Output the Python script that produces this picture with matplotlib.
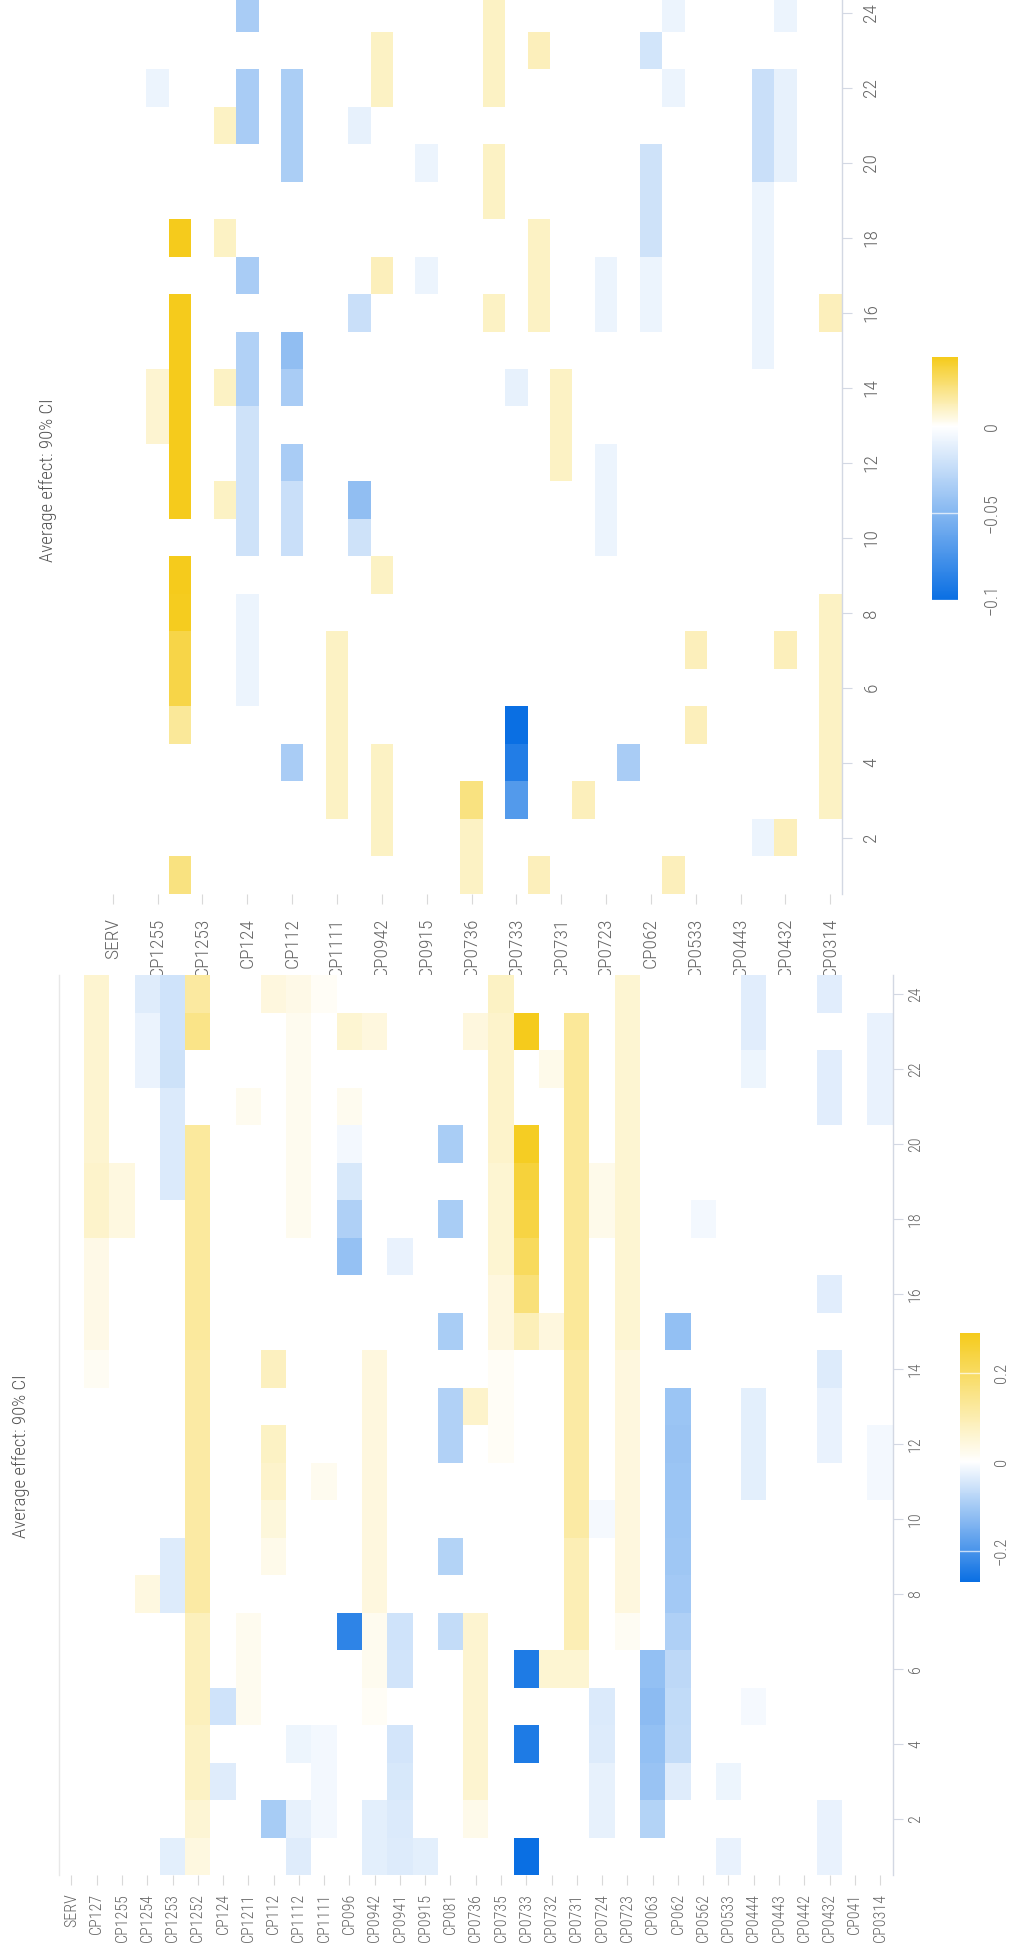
import numpy as np
import matplotlib
matplotlib.use("Agg")
import matplotlib.pyplot as plt
from matplotlib import font_manager as fm
from matplotlib.colors import LinearSegmentedColormap, Normalize

NA = np.nan

categories = ["SERV", "CP127", "CP1255", "CP1254", "CP1253", "CP1252", "CP124",
              "CP1211", "CP112", "CP1112", "CP1111", "CP096", "CP0942", "CP0941",
              "CP0915", "CP081", "CP0736", "CP0735", "CP0733", "CP0732", "CP0731",
              "CP0724", "CP0723", "CP063", "CP062", "CP0562", "CP0533", "CP0444",
              "CP0443", "CP0442", "CP0432", "CP041", "CP0314"]
hours = list(range(1, 25))
hour_ticks = [2, 4, 6, 8, 10, 12, 14, 16, 18, 20, 22, 24]

# Upper panel: average effect per category (rows) and hour 1..24 (columns)
upper_effect = [
    [NA, NA, NA, NA, NA, NA, NA, NA, NA, NA, NA, NA, NA, NA, NA, NA, NA, NA, NA, NA, NA, NA, NA, NA],
    [NA, NA, NA, NA, NA, NA, NA, NA, NA, NA, NA, NA, NA, NA, NA, NA, NA, NA, NA, NA, NA, NA, NA, NA],
    [NA, NA, NA, NA, NA, NA, NA, NA, NA, NA, NA, NA, .008, .008, NA, NA, NA, NA, NA, NA, NA, -.008, NA, NA],
    [.022, NA, NA, NA, .018, .032, .032, .039, .04, NA, .04, .04, .04, .04, .04, .04, NA, .04, NA, NA, NA, NA, NA, NA],
    [NA, NA, NA, NA, NA, NA, NA, NA, NA, NA, NA, NA, NA, NA, NA, NA, NA, NA, NA, NA, NA, NA, NA, NA],
    [NA, NA, NA, NA, NA, NA, NA, NA, NA, NA, .01, NA, NA, .01, NA, NA, NA, .01, NA, NA, .01, NA, NA, NA],
    [NA, NA, NA, NA, NA, -.008, -.008, -.008, NA, -.02, -.02, -.02, -.02, -.032, -.032, NA, -.035, NA, NA, NA, -.035, -.035, NA, -.035],
    [NA, NA, NA, NA, NA, NA, NA, NA, NA, NA, NA, NA, NA, NA, NA, NA, NA, NA, NA, NA, NA, NA, NA, NA],
    [NA, NA, NA, -.035, NA, NA, NA, NA, NA, -.022, -.022, -.035, NA, -.035, -.045, NA, NA, NA, NA, -.034, -.034, -.034, NA, NA],
    [NA, NA, NA, NA, NA, NA, NA, NA, NA, NA, NA, NA, NA, NA, NA, NA, NA, NA, NA, NA, NA, NA, NA, NA],
    [NA, NA, .01, .01, .01, .01, .01, NA, NA, NA, NA, NA, NA, NA, NA, NA, NA, NA, NA, NA, NA, NA, NA, NA],
    [NA, NA, NA, NA, NA, NA, NA, NA, NA, -.02, -.045, NA, NA, NA, NA, -.022, NA, NA, NA, NA, -.01, NA, NA, NA],
    [NA, .01, .01, .01, NA, NA, NA, NA, .01, NA, NA, NA, NA, NA, NA, NA, .012, NA, NA, NA, NA, .01, .01, NA],
    [NA, NA, NA, NA, NA, NA, NA, NA, NA, NA, NA, NA, NA, NA, NA, NA, NA, NA, NA, NA, NA, NA, NA, NA],
    [NA, NA, NA, NA, NA, NA, NA, NA, NA, NA, NA, NA, NA, NA, NA, NA, -.008, NA, NA, -.008, NA, NA, NA, NA],
    [NA, NA, NA, NA, NA, NA, NA, NA, NA, NA, NA, NA, NA, NA, NA, NA, NA, NA, NA, NA, NA, NA, NA, NA],
    [.01, .01, .022, NA, NA, NA, NA, NA, NA, NA, NA, NA, NA, NA, NA, NA, NA, NA, NA, NA, NA, NA, NA, NA],
    [NA, NA, NA, NA, NA, NA, NA, NA, NA, NA, NA, NA, NA, NA, NA, .01, NA, NA, .01, .01, NA, .01, .01, .01],
    [NA, NA, -.07, -.09, -.1, NA, NA, NA, NA, NA, NA, NA, NA, -.01, NA, NA, NA, NA, NA, NA, NA, NA, NA, NA],
    [.012, NA, NA, NA, NA, NA, NA, NA, NA, NA, NA, NA, NA, NA, NA, .01, .01, .01, NA, NA, NA, NA, .012, NA],
    [NA, NA, NA, NA, NA, NA, NA, NA, NA, NA, NA, .01, .01, .01, NA, NA, NA, NA, NA, NA, NA, NA, NA, NA],
    [NA, NA, .012, NA, NA, NA, NA, NA, NA, NA, NA, NA, NA, NA, NA, NA, NA, NA, NA, NA, NA, NA, NA, NA],
    [NA, NA, NA, NA, NA, NA, NA, NA, NA, -.008, -.008, -.008, NA, NA, NA, -.008, -.008, NA, NA, NA, NA, NA, NA, NA],
    [NA, NA, NA, -.035, NA, NA, NA, NA, NA, NA, NA, NA, NA, NA, NA, NA, NA, NA, NA, NA, NA, NA, NA, NA],
    [NA, NA, NA, NA, NA, NA, NA, NA, NA, NA, NA, NA, NA, NA, NA, -.008, -.008, -.02, -.02, -.02, NA, NA, -.018, NA],
    [.012, NA, NA, NA, NA, NA, NA, NA, NA, NA, NA, NA, NA, NA, NA, NA, NA, NA, NA, NA, NA, -.008, NA, -.008],
    [NA, NA, NA, NA, .012, NA, .012, NA, NA, NA, NA, NA, NA, NA, NA, NA, NA, NA, NA, NA, NA, NA, NA, NA],
    [NA, NA, NA, NA, NA, NA, NA, NA, NA, NA, NA, NA, NA, NA, NA, NA, NA, NA, NA, NA, NA, NA, NA, NA],
    [NA, NA, NA, NA, NA, NA, NA, NA, NA, NA, NA, NA, NA, NA, NA, NA, NA, NA, NA, NA, NA, NA, NA, NA],
    [NA, -.008, NA, NA, NA, NA, NA, NA, NA, NA, NA, NA, NA, NA, -.008, -.008, -.008, -.008, -.008, -.022, -.022, -.022, NA, NA],
    [NA, .012, NA, NA, NA, NA, .012, NA, NA, NA, NA, NA, NA, NA, NA, NA, NA, NA, NA, -.01, -.01, -.01, NA, -.008],
    [NA, NA, NA, NA, NA, NA, NA, NA, NA, NA, NA, NA, NA, NA, NA, NA, NA, NA, NA, NA, NA, NA, NA, NA],
    [NA, NA, .01, .01, .01, .01, .01, .01, NA, NA, NA, NA, NA, NA, NA, .012, NA, NA, NA, NA, NA, NA, NA, NA],
]

# Lower panel: average effect per category (rows) and hour 1..24 (columns)
lower_effect = [
    [NA, NA, NA, NA, NA, NA, NA, NA, NA, NA, NA, NA, NA, NA, NA, NA, NA, NA, NA, NA, NA, NA, NA, NA],
    [NA, NA, NA, NA, NA, NA, NA, NA, NA, NA, NA, NA, NA, .015, .03, .03, .03, .065, .065, .06, .06, .06, .06, .06],
    [NA, NA, NA, NA, NA, NA, NA, NA, NA, NA, NA, NA, NA, NA, NA, NA, NA, .04, .04, NA, NA, NA, NA, NA],
    [NA, NA, NA, NA, NA, NA, NA, .04, NA, NA, NA, NA, NA, NA, NA, NA, NA, NA, NA, NA, NA, -.022, -.022, -.035],
    [-.031, NA, NA, NA, NA, NA, NA, -.037, -.037, NA, NA, NA, NA, NA, NA, NA, NA, NA, -.04, -.04, -.04, -.055, -.052, -.052],
    [.04, .055, .075, .075, .085, .085, .085, .115, .115, .115, .115, .115, .115, .115, .125, .125, .125, .125, .125, .125, NA, NA, .15, .12],
    [NA, NA, -.035, NA, -.053, NA, NA, NA, NA, NA, NA, NA, NA, NA, NA, NA, NA, NA, NA, NA, NA, NA, NA, NA],
    [NA, NA, NA, NA, .02, .02, .02, NA, NA, NA, NA, NA, NA, NA, NA, NA, NA, NA, NA, NA, .02, NA, NA, NA],
    [NA, -.096, NA, NA, NA, NA, NA, NA, .026, .045, .066, .074, NA, .08, NA, NA, NA, NA, NA, NA, NA, NA, NA, .042],
    [-.035, -.027, NA, -.019, NA, NA, NA, NA, NA, NA, NA, NA, NA, NA, NA, NA, NA, .02, .02, .02, .02, .02, .02, .03],
    [NA, -.014, -.014, -.014, NA, NA, NA, NA, NA, NA, .02, NA, NA, NA, NA, NA, NA, NA, NA, NA, NA, NA, NA, .012],
    [NA, NA, NA, NA, NA, NA, -.229, NA, NA, NA, NA, NA, NA, NA, NA, NA, -.116, -.087, -.043, -.013, .02, NA, .056, NA],
    [-.031, -.031, NA, NA, .012, .02, .02, .042, .042, .042, .042, .042, .042, .042, NA, NA, NA, NA, NA, NA, NA, NA, .042, NA],
    [-.037, -.04, -.043, -.047, NA, -.05, -.053, NA, NA, NA, NA, NA, NA, NA, NA, NA, -.023, NA, NA, NA, NA, NA, NA, NA],
    [-.031, NA, NA, NA, NA, NA, NA, NA, NA, NA, NA, NA, NA, NA, NA, NA, NA, NA, NA, NA, NA, NA, NA, NA],
    [NA, NA, NA, NA, NA, NA, -.065, NA, -.082, NA, NA, -.086, -.086, NA, -.095, NA, NA, -.095, NA, -.095, NA, NA, NA, NA],
    [NA, .026, .06, .06, .06, .06, .06, NA, NA, NA, NA, NA, .066, NA, NA, NA, NA, NA, NA, NA, NA, NA, .042, NA],
    [NA, NA, NA, NA, NA, NA, NA, NA, NA, NA, NA, .012, .012, .012, .042, .042, .056, .056, .056, .066, .066, .066, .066, .074],
    [-.27, NA, NA, -.248, NA, -.248, NA, NA, NA, NA, NA, NA, NA, NA, .09, .17, .206, .238, .25, .28, NA, NA, .29, NA],
    [NA, NA, NA, NA, NA, .056, NA, NA, NA, NA, NA, NA, NA, NA, .042, NA, NA, NA, NA, NA, NA, .026, NA, NA],
    [NA, NA, NA, NA, NA, .056, .095, .095, .095, .115, .115, .115, .115, .115, .13, .13, .13, .13, .13, .13, .13, .13, .13, NA],
    [NA, -.027, -.027, -.037, -.04, NA, NA, NA, NA, -.011, NA, NA, NA, NA, NA, NA, NA, .026, .026, NA, NA, NA, NA, NA],
    [NA, NA, NA, NA, NA, NA, .015, .042, .042, .042, .042, .042, .042, .042, .056, .056, .056, .056, .056, .056, .056, .056, .056, .056],
    [NA, -.082, -.111, -.119, -.126, -.119, NA, NA, NA, NA, NA, NA, NA, NA, NA, NA, NA, NA, NA, NA, NA, NA, NA, NA],
    [NA, NA, -.035, -.065, -.068, -.072, -.088, -.1, -.105, -.108, -.11, -.112, -.11, NA, -.119, NA, NA, NA, NA, NA, NA, NA, NA, NA],
    [NA, NA, NA, NA, NA, NA, NA, NA, NA, NA, NA, NA, NA, NA, NA, NA, NA, -.013, NA, NA, NA, NA, NA, NA],
    [-.023, NA, -.019, NA, NA, NA, NA, NA, NA, NA, NA, NA, NA, NA, NA, NA, NA, NA, NA, NA, NA, NA, NA, NA],
    [NA, NA, NA, NA, -.011, NA, NA, NA, NA, NA, -.031, -.031, -.031, NA, NA, NA, NA, NA, NA, NA, NA, -.019, -.033, -.033],
    [NA, NA, NA, NA, NA, NA, NA, NA, NA, NA, NA, NA, NA, NA, NA, NA, NA, NA, NA, NA, NA, NA, NA, NA],
    [NA, NA, NA, NA, NA, NA, NA, NA, NA, NA, NA, NA, NA, NA, NA, NA, NA, NA, NA, NA, NA, NA, NA, NA],
    [-.023, -.023, NA, NA, NA, NA, NA, NA, NA, NA, NA, -.023, -.023, -.037, NA, -.033, NA, NA, NA, NA, -.033, -.033, NA, -.033],
    [NA, NA, NA, NA, NA, NA, NA, NA, NA, NA, NA, NA, NA, NA, NA, NA, NA, NA, NA, NA, NA, NA, NA, NA],
    [NA, NA, NA, NA, NA, NA, NA, NA, NA, NA, -.013, -.013, NA, NA, NA, NA, NA, NA, NA, NA, -.023, -.023, -.023, NA],
]

upper_cbar_ticks = [-0.1, -0.05, 0]
lower_cbar_ticks = [-0.2, 0, 0.2]
title_text = "Average effect: 90% CI"

BLUE, WHITE, YELLOW = "#0a6fe3", "#ffffff", "#f5cb1c"
TEXT = "#666666"

W, H = 1010, 1955
fig = plt.figure(figsize=(W / 100, H / 100), dpi=100, facecolor="white")


def pick_font(*names):
    avail = {f.name for f in fm.fontManager.ttflist}
    for n in names:
        if n in avail:
            return n
    return "DejaVu Sans"


NARROW = pick_font("Roboto Condensed", "Liberation Sans Narrow", "Open Sans Condensed",
                   "DejaVu Sans Condensed", "DejaVu Sans")


def px_axes(x0, y0, x1, y1):
    return fig.add_axes([x0 / W, 1 - y1 / H, (x1 - x0) / W, (y1 - y0) / H])


def minus(v):
    return f"{v:g}".replace("-", "\u2212")


def draw_panel(ax_box, cax_box, values, label_every, font_size, cbar_ticks,
               tick_pad, hour_pad, cbar_pad, cbar_font, left_line):
    z = np.array(values, dtype=float).T          # hours x categories
    vmin, vmax = np.nanmin(z), np.nanmax(z)
    mid = -vmin / (vmax - vmin)
    cmap = LinearSegmentedColormap.from_list("effect", [(0, BLUE), (mid, WHITE), (1, YELLOW)])
    norm = Normalize(vmin=vmin, vmax=vmax)

    ax = px_axes(*ax_box)
    xe = np.arange(len(categories) + 1) - 0.5
    ye = np.arange(len(hours) + 1) + 0.5
    mesh = ax.pcolormesh(xe, ye, np.ma.masked_invalid(z), cmap=cmap, norm=norm,
                         shading="flat", edgecolors="none", antialiased=False)
    ax.set_xlim(-0.5, len(categories) - 0.5)
    ax.set_ylim(0.5, 24.5)

    for side in ("top", "bottom"):
        ax.spines[side].set_visible(False)
    ax.spines["left"].set_visible(left_line)
    ax.spines["left"].set_color("#e8e8e8")
    ax.spines["right"].set_color("#d3d8e3")
    for side in ("left", "right"):
        ax.spines[side].set_linewidth(1.0)

    idx = list(range(0, len(categories), label_every))
    ax.set_xticks(idx)
    ax.set_xticklabels([categories[i] for i in idx], rotation=90, fontsize=font_size,
                       color=TEXT, family=NARROW, fontweight="light")
    for t in ax.get_xticklabels():
        t.set_va("top")
        t.set_ha("center")
    ax.tick_params(axis="x", length=7, width=0.8, color="#d9d9d9", pad=tick_pad)

    ax.yaxis.tick_right()
    ax.set_yticks(hour_ticks)
    ax.set_yticklabels([str(h) for h in hour_ticks], rotation=90, fontsize=font_size,
                       color=TEXT, family=NARROW, fontweight="light")
    for t in ax.get_yticklabels():
        t.set_va("center")
    ax.tick_params(axis="y", length=7, width=0.8, color="#d3d8e3", pad=hour_pad)

    cax = px_axes(*cax_box)
    cb = fig.colorbar(mesh, cax=cax, orientation="vertical")
    cb.outline.set_visible(False)
    cb.set_ticks(cbar_ticks)
    cb.set_ticklabels([minus(t) for t in cbar_ticks])
    cax.tick_params(length=0, pad=cbar_pad)
    for t in cax.get_yticklabels():
        t.set_rotation(90)
        t.set_va("center")
        t.set_fontsize(cbar_font)
        t.set_color(TEXT)
        t.set_family(NARROW)
        t.set_fontweight("light")
    for t in cbar_ticks:
        cax.axhline(t, color="white", lw=1.0, alpha=0.7)
    return ax


# upper panel (every second category labelled)
draw_panel((101.6, -6, 841.5, 894), (932, 357, 958, 600), upper_effect, 2, 14,
           upper_cbar_ticks, tick_pad=10, hour_pad=8, cbar_pad=18, cbar_font=13,
           left_line=False)
fig.text(48 / W, 1 - 480 / H, title_text, rotation=90, ha="center", va="center",
         fontsize=13.5, color="#555555", family=NARROW, fontweight="light")

# lower panel (all categories labelled)
draw_panel((58.8, 975, 892.7, 1875), (960, 1333, 980, 1582), lower_effect, 1, 11.5,
           lower_cbar_ticks, tick_pad=6, hour_pad=4, cbar_pad=10, cbar_font=12,
           left_line=True)
fig.text(21 / W, 1 - 1456 / H, title_text, rotation=90, ha="center", va="center",
         fontsize=13.5, color="#555555", family=NARROW, fontweight="light")

fig.savefig("out.png", dpi=100, facecolor="white")
